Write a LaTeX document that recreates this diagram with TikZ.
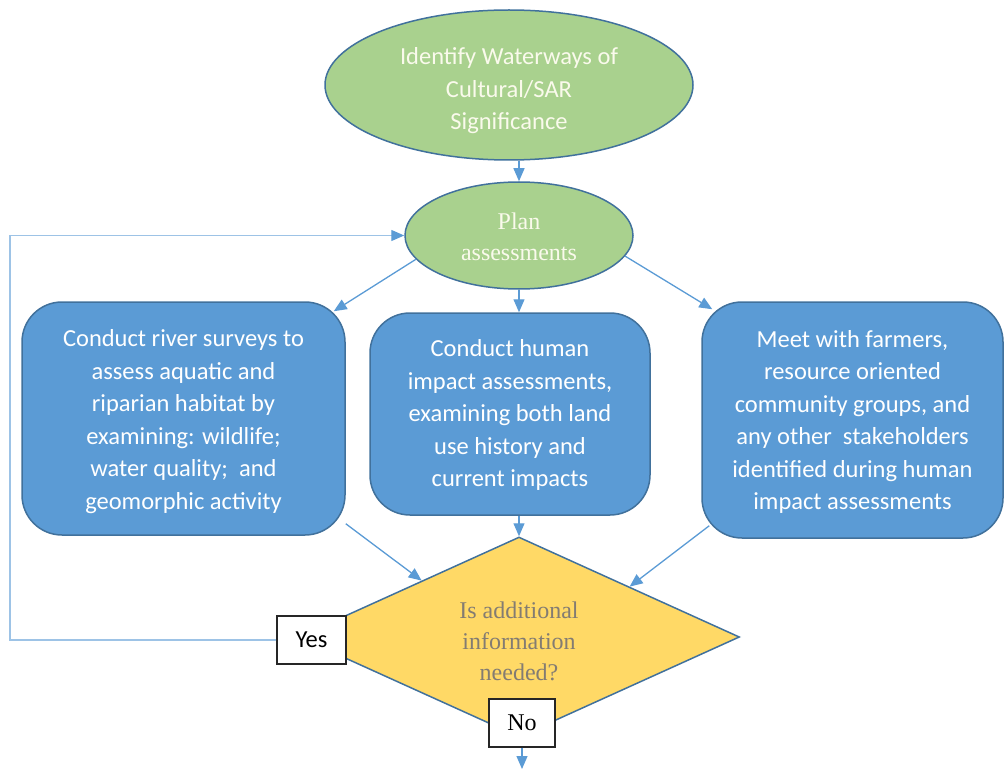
\documentclass[tikz,border=0pt]{standalone}
\usepackage{fontspec}
\setmainfont{Liberation Serif}
\newfontfamily\calfont{Carlito}
\usetikzlibrary{shapes.geometric,arrows.meta,calc}
\definecolor{boxblue}{HTML}{5B9BD5}
\definecolor{edgeblue}{HTML}{41719C}
\definecolor{leafgreen}{HTML}{A9D18E}
\definecolor{gold}{HTML}{FFD966}
\definecolor{loopblue}{HTML}{9DC3E6}
\definecolor{cream}{HTML}{FAFAEC}
\definecolor{txtgray}{HTML}{837C72}
\definecolor{tagline}{HTML}{262626}
\newcommand{\lowered}[3]{\raisebox{#1}[\height][\depth]{\parbox{#2}{\centering #3}}}
\begin{document}
\begin{tikzpicture}[x=1pt,y=-1pt,
  oval/.style={ellipse,draw=edgeblue,line width=1.5pt,fill=leafgreen,inner sep=0pt,text=cream},
  box/.style={rectangle,rounded corners=40pt,draw=edgeblue,line width=1.5pt,fill=boxblue,inner sep=0pt,text=white,font=\calfont\fontsize{24.5}{32.5}\selectfont},
  tag/.style={rectangle,draw=tagline,line width=1.2pt,fill=white,inner sep=0pt,text=black},
  arr/.style={draw=boxblue,line width=1.3pt,-{Triangle[length=13pt,width=11pt]}},
  loopline/.style={draw=loopblue,line width=1.3pt,-{Triangle[length=13pt,width=11pt,color=boxblue]}}]
\useasboundingbox (0,0) rectangle (1004,770);

\node[oval,minimum width=368pt,minimum height=150pt,font=\calfont\fontsize{24.5}{32.5}\selectfont] (ident) at (509,85) {\lowered{-6pt}{260pt}{Identify Waterways of\\Cultural/SAR\\Significance}};
\node[oval,minimum width=228pt,minimum height=107pt,font=\fontsize{24}{31}\selectfont] (plan) at (519,235.5) {\lowered{-1.5pt}{140pt}{Plan\\assessments}};

\node[box,minimum width=323pt,minimum height=233pt] (left) at (183.5,418.5) {\lowered{-3pt}{290pt}{Conduct river surveys to\\assess aquatic and\\riparian habitat by\\examining: wildlife;\\water quality;\ \ and\\geomorphic activity}};
\node[box,minimum width=280pt,minimum height=202pt] (mid) at (510,414) {\lowered{-1pt}{260pt}{Conduct human\\impact assessments,\\examining both land\\use history and\\current impacts}};
\node[box,minimum width=301pt,minimum height=236pt] (right) at (852.5,420) {\lowered{-2pt}{290pt}{Meet with farmers,\\resource oriented\\community groups, and\\any other\ \ stakeholders\\identified during human\\impact assessments}};

\node[diamond,shape aspect=2.2,draw=edgeblue,line width=1.5pt,fill=gold,minimum width=441pt,minimum height=200pt,inner sep=0pt,text=txtgray,font=\fontsize{24}{31}\selectfont] (dec) at (519,637) {\lowered{-4pt}{130pt}{Is additional\\information\\needed?}};

\node[tag,minimum width=69pt,minimum height=48pt,font=\calfont\fontsize{24.5}{30}\selectfont] (yes) at (311.5,640) {Yes};
\node[tag,minimum width=66pt,minimum height=48pt,font=\fontsize{24}{30}\selectfont] (no) at (522,723) {No};

\coordinate (loopx) at (10,640);
\coordinate (bot) at (522,769);

\draw[arr] (plan.north |- ident.south) -- (plan.north);
\draw[loopline] (yes.west) -- (yes.west -| loopx) |- (plan.west);
\draw[arr] (plan.193) -- ([shift={(-12,10)}]left.north east);
\draw[arr] (plan.south) -- (plan.south |- mid.north);
\draw[arr] (plan.-11) -- ([shift={(11,8)}]right.north west);
\draw[arr] ([shift={(0,-12)}]left.south east) -- ($(dec.north)!0.44!(dec.west)$);
\draw[arr] (dec.north |- mid.south) -- (dec.north);
\draw[arr] ([shift={(8,-13)}]right.south west) -- ($(dec.north)!0.5!(dec.east)$);
\draw[arr] (no.south) -- (bot);
\end{tikzpicture}
\end{document}
